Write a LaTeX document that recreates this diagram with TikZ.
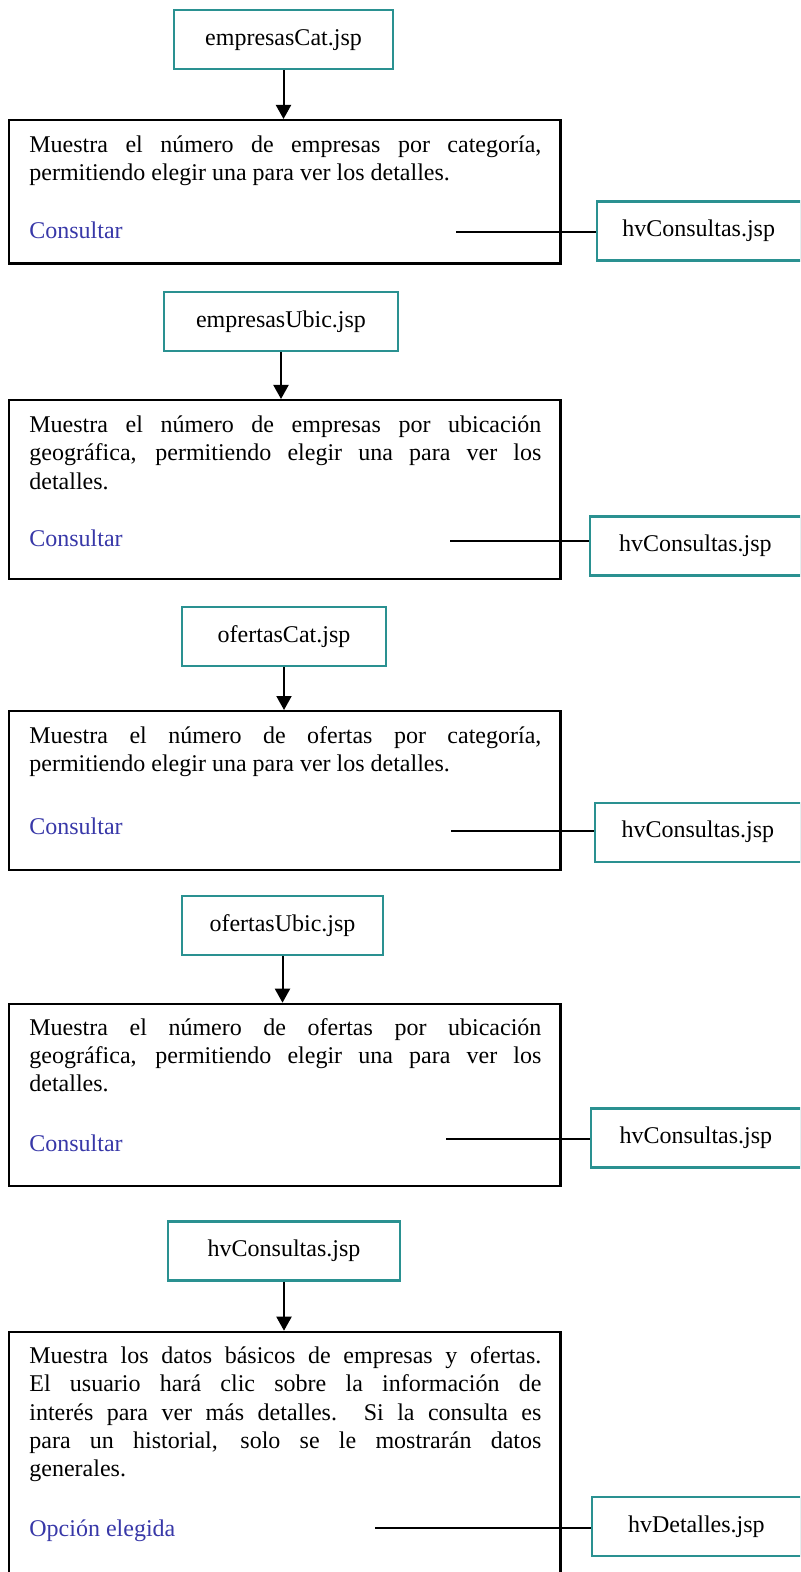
\documentclass[tikz,border=0pt]{standalone}
\usepackage{fontspec}
\setmainfont{Liberation Serif}
\usepackage{xcolor}
\usepackage{tikz}
\usetikzlibrary{arrows.meta}
\definecolor{jspteal}{HTML}{2A9191}
\definecolor{optblue}{HTML}{3838A8}

\begin{document}
\begin{tikzpicture}[x=0.5pt,y=-0.5pt,
  font=\fontsize{12}{14.2}\selectfont,
  jsp/.style={draw=jspteal,line width=1.1pt,minimum height=29.5pt,inner sep=0pt},
  panel/.style={draw=black,line width=1.1pt,minimum width=275.75pt,anchor=north,inner sep=0pt},
  desc/.style={anchor=base west,text width=256pt,align=justify,inner sep=0pt},
  opt/.style={anchor=base west,text=optblue,inner sep=0pt},
  ar/.style={-{Triangle[width=7.5pt,length=7pt]},line width=1pt},
  ln/.style={line width=1pt}]
  \clip (0,0) rectangle (800,1572);
  % empresas por categoria
  \node[jsp,minimum width=109.3pt] (s1) at (283.5,39.7) {empresasCat.jsp};
  \node[panel,minimum height=71.75pt] (p1) at (284.75,119) {};
  \node[desc] (d1) at (29,152.3) {Muestra el número de empresas por categoría,\linebreak
    permitiendo elegir una para ver los detalles.};
  \node[opt] (o1) at (29,238.3) {Consultar};
  \coordinate (c1) at (456,232);
  \node[jsp,anchor=west,minimum width=101.9pt] (h1) at (595.7,231) {hvConsultas.jsp};
  \draw[ar] (s1.south) -- (s1.south |- p1.north);
  \draw[ln] (c1) -- (c1 -| h1.west);
  % empresas por ubicacion
  \node[jsp,minimum width=116.8pt] (s2) at (281,321.5) {empresasUbic.jsp};
  \node[panel,minimum height=89.5pt] (p2) at (284.75,399) {};
  \node[desc] (d2) at (29,432.3) {Muestra el número de empresas por ubicación\linebreak
    geográfica, permitiendo elegir una para ver los\linebreak detalles.};
  \node[opt] (o2) at (29,546.7) {Consultar};
  \coordinate (c2) at (450,541);
  \node[jsp,anchor=west,minimum width=105.25pt] (h2) at (589,546) {hvConsultas.jsp};
  \draw[ar] (s2.south) -- (s2.south |- p2.north);
  \draw[ln] (c2) -- (c2 -| h2.west);
  % ofertas por categoria
  \node[jsp,minimum width=102.2pt] (s3) at (284,636.3) {ofertasCat.jsp};
  \node[panel,minimum height=79.5pt] (p3) at (284.75,710) {};
  \node[desc] (d3) at (29,743) {Muestra el número de ofertas por categoría,\linebreak
    permitiendo elegir una para ver los detalles.};
  \node[opt] (o3) at (29,834) {Consultar};
  \coordinate (c3) at (451,830.7);
  \node[jsp,anchor=west,minimum width=102.75pt] (h3) at (594,832.2) {hvConsultas.jsp};
  \draw[ar] (s3.south) -- (s3.south |- p3.north);
  \draw[ln] (c3) -- (c3 -| h3.west);
  % ofertas por ubicacion
  \node[jsp,minimum width=100.8pt] (s4) at (282.5,925.5) {ofertasUbic.jsp};
  \node[panel,minimum height=91pt] (p4) at (284.75,1002.7) {};
  \node[desc] (d4) at (29,1035) {Muestra el número de ofertas por ubicación\linebreak
    geográfica, permitiendo elegir una para ver los\linebreak detalles.};
  \node[opt] (o4) at (29,1151.7) {Consultar};
  \coordinate (c4) at (446,1139);
  \node[jsp,anchor=west,minimum width=104.75pt] (h4) at (590,1138) {hvConsultas.jsp};
  \draw[ar] (s4.south) -- (s4.south |- p4.north);
  \draw[ln] (c4) -- (c4 -| h4.west);
  % hvConsultas
  \node[jsp,minimum width=115.8pt] (s5) at (284,1251) {hvConsultas.jsp};
  \node[panel,minimum height=150pt] (p5) at (284.75,1330.7) {};
  \node[desc] (d5) at (29,1363.3) {Muestra los datos básicos de empresas y ofertas.\linebreak
    El usuario hará clic sobre la información de\linebreak
    interés para ver más detalles.\ \ Si la consulta es\linebreak
    para un historial, solo se le mostrarán datos\linebreak generales.};
  \node[opt] (o5) at (29,1536.7) {Opción elegida};
  \coordinate (c5) at (375,1528);
  \node[jsp,anchor=west,minimum width=104.25pt] (h5) at (591,1526.5) {hvDetalles.jsp};
  \draw[ar] (s5.south) -- (s5.south |- p5.north);
  \draw[ln] (c5) -- (c5 -| h5.west);
\end{tikzpicture}
\end{document}
